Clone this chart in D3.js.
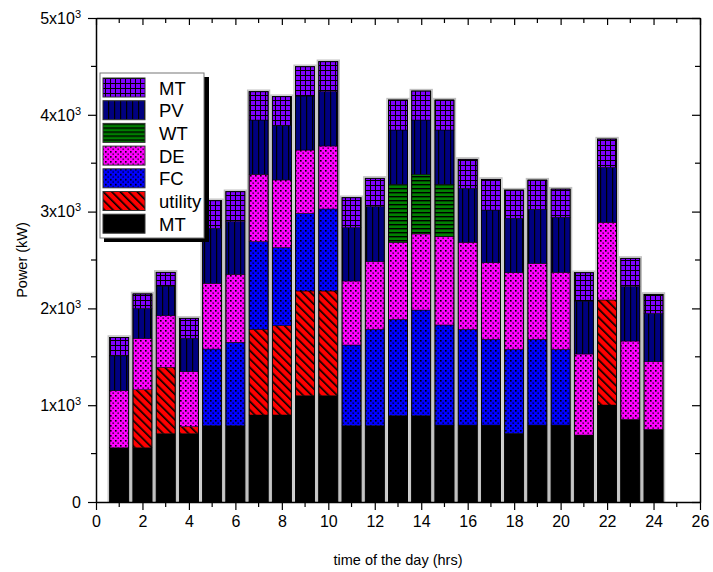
<!DOCTYPE html>
<html><head><meta charset="utf-8">
<script src="https://cdn.jsdelivr.net/npm/d3@7/dist/d3.min.js"></script>
<style>body{margin:0;background:#fff;} svg{display:block;font-family:"Liberation Sans",Arial,sans-serif;}</style>
</head><body>
<svg id="chart" width="713" height="572"></svg>
<script>
const hours = d3.range(1, 25);
const mtBase  = [560,560,706,706,788,788,899,899,1098,1098,788,788,892,892,795,795,795,709,795,795,692,1002,854,751];
const utility = [0,600,685,72,0,0,885,923,1082,1082,0,0,0,0,0,0,0,0,0,0,0,1085,0,0];
const fc      = [0,0,0,0,792,862,905,805,802,847,834,996,995,1091,1034,989,886,868,886,782,0,0,0,0];
const de      = [590,530,534,568,679,702,696,700,654,651,661,699,796,786,912,899,791,792,784,795,837,802,809,698];
const wt      = [0,0,0,0,0,0,0,0,0,0,0,0,599,616,541,0,0,0,0,0,0,0,0,0];
const pv      = [360,310,306,345,568,544,561,561,558,561,551,568,561,561,561,557,544,562,559,569,547,568,561,500];
const mtTop   = [190,150,142,207,286,310,293,300,303,310,310,293,310,300,310,300,317,292,302,292,293,293,293,196];

const seriesKeys = ["mtBase","utility","fc","de","wt","pv","mtTop"];
const seriesData = {mtBase, utility, fc, de, wt, pv, mtTop};
const legendLabels = [["mtTop","MT"],["pv","PV"],["wt","WT"],["de","DE"],["fc","FC"],["utility","utility"],["mtBase","MT"]];
const xTickValues = d3.range(0, 27, 2);
const yTickValues = [0,1000,2000,3000,4000,5000];

const svg = d3.select("#chart");
const margin = {left:96, top:18, right:13, bottom:70};
const W = 713, H = 572;
const x = d3.scaleLinear().domain([0,26]).range([margin.left, W - margin.right]);
const y = d3.scaleLinear().domain([0,5000]).range([H - margin.bottom, margin.top]);

// patterns
const defs = svg.append("defs");
function pat(id, w, h, bg, draw, transform){
  const p = defs.append("pattern").attr("id", id).attr("patternUnits","userSpaceOnUse").attr("width", w).attr("height", h);
  if (transform) p.attr("patternTransform", transform);
  p.append("rect").attr("width", w).attr("height", h).attr("fill", bg);
  draw(p);
}
pat("p-mtTop", 5, 5, "#8000ff", p => {
  p.append("rect").attr("x",0).attr("y",0).attr("width",1).attr("height",5).attr("fill","#000");
  p.append("rect").attr("x",0).attr("y",0).attr("width",5).attr("height",1).attr("fill","#000");
});
pat("p-pv", 6, 6, "#000080", p => {
  p.append("rect").attr("x",0).attr("y",0).attr("width",1.2).attr("height",6).attr("fill","#000");
});
pat("p-wt", 4, 4, "#008000", p => {
  p.append("rect").attr("x",0).attr("y",0).attr("width",4).attr("height",1.4).attr("fill","#000");
});
function dots(p){
  p.append("rect").attr("x",0).attr("y",0).attr("width",1.6).attr("height",1.6).attr("fill","#000");
  p.append("rect").attr("x",2.5).attr("y",2.5).attr("width",1.3).attr("height",1.3).attr("fill","#000");
}
pat("p-de", 5, 5, "#ff00ff", dots);
pat("p-fc", 5, 5, "#0000ff", dots);
pat("p-utility", 6, 6, "#ff0000", p => {
  p.append("rect").attr("x",0).attr("y",0).attr("width",1.6).attr("height",6).attr("fill","#000");
}, "rotate(-45)");
const fills = {mtBase:"#000", utility:"url(#p-utility)", fc:"url(#p-fc)", de:"url(#p-de)", wt:"url(#p-wt)", pv:"url(#p-pv)", mtTop:"url(#p-mtTop)"};

// stack
const rows = hours.map((h,i) => { const r = {hour:h}; seriesKeys.forEach(k => r[k] = seriesData[k][i]); return r; });
const stacked = d3.stack().keys(seriesKeys)(rows);
const bw = x(0.82) - x(0);
const total = d => d3.sum(seriesKeys, k => d[k]);

// bar halos
svg.append("g").selectAll("rect").data(rows).join("rect")
  .attr("x", d => x(d.hour) - bw/2 - 1.5)
  .attr("y", d => y(total(d)) - 1.5)
  .attr("width", bw + 3)
  .attr("height", d => y(0) - y(total(d)) + 1.5)
  .attr("fill", "none").attr("stroke", "#c0c0c0").attr("stroke-width", 1.3);

const gBars = svg.append("g");
stacked.forEach(layer => {
  gBars.append("g").selectAll("rect").data(layer.filter(d => d[1] > d[0])).join("rect")
    .attr("x", d => x(d.data.hour) - bw/2)
    .attr("y", d => y(d[1]))
    .attr("width", bw)
    .attr("height", d => y(d[0]) - y(d[1]))
    .attr("fill", fills[layer.key])
    .attr("stroke", "#000").attr("stroke-width", 0.5);
});
svg.append("g").selectAll("rect").data(rows).join("rect")
  .attr("x", d => x(d.hour) - bw/2)
  .attr("y", d => y(total(d)))
  .attr("width", bw)
  .attr("height", d => y(0) - y(total(d)))
  .attr("fill", "none").attr("stroke", "#000").attr("stroke-width", 1);

// axes
const axisStyle = g => { g.selectAll("path").attr("stroke","#000").attr("stroke-width",1.5); g.selectAll("line").attr("stroke","#000").attr("stroke-width",1.2); };
const xMinor = d3.range(0, 27, 1).filter(v => v % 2);
const yMinor = d3.range(500, 5000, 1000);

const gx = svg.append("g").attr("transform", `translate(0,${y(0)})`)
  .call(d3.axisBottom(x).tickValues(xTickValues).tickSize(8).tickSizeOuter(0).tickPadding(6).tickFormat(d3.format("d")));
gx.call(axisStyle);
gx.selectAll("text").attr("font-size", 16).attr("fill","#000").attr("font-family","Liberation Sans, Arial, sans-serif");
gx.append("g").selectAll("line").data(xMinor).join("line")
  .attr("x1", d => x(d)).attr("x2", d => x(d)).attr("y1",0).attr("y2",5).attr("stroke","#000").attr("stroke-width",1.2);

const gxt = svg.append("g").attr("transform", `translate(0,${y(5000)})`)
  .call(d3.axisBottom(x).tickValues(xTickValues).tickSize(7).tickSizeOuter(0).tickFormat(""));
gxt.call(axisStyle);
gxt.append("g").selectAll("line").data(xMinor).join("line")
  .attr("x1", d => x(d)).attr("x2", d => x(d)).attr("y1",0).attr("y2",5).attr("stroke","#000").attr("stroke-width",1.2);

const gy = svg.append("g").attr("transform", `translate(${x(0)},0)`)
  .call(d3.axisLeft(y).tickValues(yTickValues).tickSize(8).tickSizeOuter(0).tickPadding(7).tickFormat(""));
gy.call(axisStyle);
gy.append("g").selectAll("line").data(yMinor).join("line")
  .attr("y1", d => y(d)).attr("y2", d => y(d)).attr("x1",0).attr("x2",-5).attr("stroke","#000").attr("stroke-width",1.2);
const yl = gy.append("g").selectAll("text").data(yTickValues).join("text")
  .attr("x", -15).attr("y", d => y(d)).attr("dy","0.36em").attr("text-anchor","end")
  .attr("font-size", 16).attr("fill","#000");
yl.each(function(d){
  const t = d3.select(this);
  if (d === 0) { t.text("0"); return; }
  t.append("tspan").text((d/1000) + "x10");
  t.append("tspan").attr("font-size", 11).attr("dy", "-0.55em").text("3");
});

const gyr = svg.append("g").attr("transform", `translate(${x(26)},0)`)
  .call(d3.axisRight(y).tickValues(yTickValues).tickSize(-8).tickSizeOuter(0).tickFormat(""));
gyr.call(axisStyle);
gyr.append("g").selectAll("line").data(yMinor).join("line")
  .attr("y1", d => y(d)).attr("y2", d => y(d)).attr("x1",0).attr("x2",-5).attr("stroke","#000").attr("stroke-width",1.2);

// titles
svg.append("text").attr("x", (x(0)+x(26))/2).attr("y", 565).attr("text-anchor","middle")
  .attr("font-size", 14.5).attr("fill","#000").text("time of the day (hrs)");
svg.append("text").attr("transform", `translate(27,${(y(0)+y(5000))/2}) rotate(-90)`).attr("text-anchor","middle")
  .attr("font-size", 14.5).attr("fill","#000").text("Power (kW)");

// legend
const lg = svg.append("g");
lg.append("rect").attr("x",104).attr("y",77).attr("width",105).attr("height",165).attr("fill","#000");
lg.append("rect").attr("x",100).attr("y",73).attr("width",104).attr("height",165).attr("fill","#fff").attr("stroke","#777").attr("stroke-width",1);
const items = lg.selectAll("g.item").data(legendLabels).join("g").attr("class","item")
  .attr("transform", (d,i) => `translate(0,${78 + i*22.7})`);
items.append("rect").attr("x",103).attr("y",0).attr("width",42).attr("height",19)
  .attr("fill", d => fills[d[0]]).attr("stroke","#333").attr("stroke-width",1);
items.append("text").attr("x",159).attr("y",16.5).attr("font-size",18.5).attr("fill","#000").text(d => d[1]);
</script>
</body></html>
